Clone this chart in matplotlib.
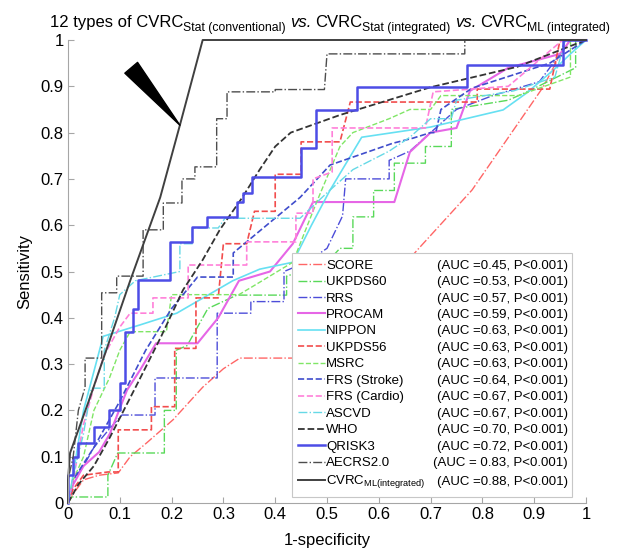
import matplotlib
matplotlib.use("Agg")
import matplotlib.pyplot as plt

plt.rcParams['font.family'] = ['Liberation Sans', 'DejaVu Sans']
plt.rcParams['mathtext.fontset'] = 'custom'
plt.rcParams['mathtext.rm'] = 'Liberation Sans'
plt.rcParams['mathtext.it'] = 'Liberation Sans:italic'

# ROC curves (fpr = 1-specificity, tpr = sensitivity)
score_fpr = [0, 0.01, 0.03, 0.06, 0.097, 0.12, 0.152, 0.203, 0.26, 0.30, 0.332, 0.45, 0.55, 0.63, 0.674, 0.78, 0.917, 0.955, 0.97, 1]
score_tpr = [0, 0.02, 0.05, 0.06, 0.065, 0.10, 0.13, 0.18, 0.25, 0.29, 0.313, 0.313, 0.40, 0.49, 0.546, 0.676, 0.898, 0.978, 1, 1]

ukpds60_fpr = [0, 0.007, 0.077, 0.077, 0.096, 0.186, 0.186, 0.209, 0.209, 0.23, 0.25, 0.27, 0.326, 0.422, 0.422, 0.45, 0.50, 0.525, 0.55, 0.55, 0.59, 0.59, 0.63, 0.63, 0.69, 0.69, 0.74, 0.74, 0.85, 0.89, 0.98, 0.98, 1]
ukpds60_tpr = [0, 0.013, 0.013, 0.06, 0.108, 0.108, 0.20, 0.20, 0.33, 0.34, 0.38, 0.42, 0.449, 0.449, 0.49, 0.50, 0.52, 0.55, 0.55, 0.618, 0.618, 0.675, 0.675, 0.734, 0.734, 0.77, 0.77, 0.85, 0.87, 0.89, 0.94, 1, 1]

rrs_fpr = [0, 0.01, 0.03, 0.05, 0.08, 0.104, 0.168, 0.168, 0.288, 0.288, 0.353, 0.353, 0.417, 0.417, 0.46, 0.50, 0.53, 0.536, 0.62, 0.62, 0.66, 0.70, 0.72, 0.75, 0.82, 0.91, 0.95, 0.96, 1]
rrs_tpr = [0, 0.05, 0.08, 0.12, 0.16, 0.19, 0.19, 0.27, 0.27, 0.41, 0.41, 0.435, 0.435, 0.50, 0.52, 0.55, 0.62, 0.70, 0.70, 0.74, 0.76, 0.80, 0.82, 0.85, 0.88, 0.91, 0.97, 1, 1]

procam_fpr = [0, 0.01, 0.03, 0.06, 0.081, 0.114, 0.139, 0.17, 0.25, 0.29, 0.33, 0.39, 0.434, 0.473, 0.63, 0.66, 0.70, 0.75, 0.776, 0.85, 0.95, 0.97, 1]
procam_tpr = [0, 0.04, 0.08, 0.11, 0.15, 0.244, 0.287, 0.345, 0.345, 0.40, 0.48, 0.50, 0.56, 0.65, 0.65, 0.758, 0.80, 0.81, 0.89, 0.94, 0.97, 1, 1]

nippon_fpr = [0, 0.004, 0.03, 0.068, 0.14, 0.21, 0.318, 0.37, 0.434, 0.47, 0.506, 0.567, 0.70, 0.84, 0.886, 0.944, 0.97, 1]
nippon_tpr = [0, 0.02, 0.20, 0.36, 0.385, 0.41, 0.48, 0.505, 0.52, 0.60, 0.676, 0.79, 0.812, 0.849, 0.886, 0.942, 0.97, 1]

ukpds56_fpr = [0, 0.01, 0.03, 0.077, 0.097, 0.097, 0.161, 0.161, 0.206, 0.206, 0.247, 0.247, 0.29, 0.30, 0.345, 0.36, 0.40, 0.40, 0.45, 0.45, 0.525, 0.545, 0.79, 0.79, 0.93, 0.95, 1]
ukpds56_tpr = [0, 0.03, 0.06, 0.067, 0.067, 0.158, 0.158, 0.208, 0.208, 0.334, 0.334, 0.443, 0.443, 0.56, 0.56, 0.63, 0.63, 0.71, 0.71, 0.78, 0.78, 0.866, 0.866, 0.894, 0.894, 1, 1]

msrc_fpr = [0, 0.01, 0.03, 0.05, 0.08, 0.10, 0.12, 0.19, 0.20, 0.33, 0.36, 0.434, 0.48, 0.525, 0.55, 0.62, 0.66, 0.70, 0.72, 0.87, 0.97, 0.97, 1]
msrc_tpr = [0, 0.05, 0.10, 0.20, 0.27, 0.33, 0.37, 0.37, 0.45, 0.45, 0.47, 0.52, 0.65, 0.77, 0.80, 0.83, 0.85, 0.85, 0.88, 0.88, 0.92, 1, 1]

frs_stroke_fpr = [0, 0.01, 0.05, 0.10, 0.15, 0.20, 0.25, 0.319, 0.319, 0.448, 0.506, 0.627, 0.666, 0.70, 0.71, 0.72, 0.78, 0.93, 1]
frs_stroke_tpr = [0, 0.05, 0.12, 0.22, 0.33, 0.42, 0.488, 0.488, 0.54, 0.66, 0.73, 0.777, 0.788, 0.80, 0.80, 0.85, 0.896, 0.95, 1]

frs_cardio_fpr = [0, 0.01, 0.03, 0.05, 0.07, 0.10, 0.12, 0.164, 0.164, 0.232, 0.232, 0.345, 0.345, 0.44, 0.44, 0.473, 0.473, 0.51, 0.51, 0.69, 0.705, 0.85, 0.955, 1]
frs_cardio_tpr = [0, 0.05, 0.17, 0.25, 0.32, 0.38, 0.41, 0.41, 0.443, 0.443, 0.514, 0.514, 0.564, 0.564, 0.626, 0.626, 0.70, 0.715, 0.81, 0.81, 0.888, 0.90, 1, 1]

ascvd_fpr = [0, 0.01, 0.03, 0.045, 0.07, 0.07, 0.09, 0.10, 0.13, 0.216, 0.216, 0.24, 0.24, 0.29, 0.303, 0.448, 0.50, 0.55, 0.62, 0.66, 0.70, 0.74, 0.75, 0.86, 0.94, 0.96, 1]
ascvd_tpr = [0, 0.06, 0.15, 0.248, 0.248, 0.33, 0.40, 0.45, 0.48, 0.50, 0.56, 0.56, 0.594, 0.594, 0.615, 0.615, 0.67, 0.72, 0.76, 0.79, 0.83, 0.83, 0.87, 0.89, 0.92, 1, 1]

who_fpr = [0, 0.02, 0.05, 0.081, 0.135, 0.18, 0.222, 0.26, 0.293, 0.336, 0.37, 0.40, 0.43, 0.525, 0.70, 0.867, 1]
who_tpr = [0, 0.04, 0.08, 0.142, 0.26, 0.36, 0.46, 0.525, 0.59, 0.659, 0.72, 0.77, 0.80, 0.838, 0.898, 0.942, 1]

qrisk3_fpr = [0, 0, 0.01, 0.01, 0.02, 0.02, 0.05, 0.05, 0.08, 0.08, 0.10, 0.10, 0.11, 0.11, 0.125, 0.125, 0.135, 0.135, 0.197, 0.197, 0.239, 0.239, 0.268, 0.268, 0.326, 0.326, 0.338, 0.338, 0.355, 0.355, 0.45, 0.45, 0.479, 0.479, 0.558, 0.558, 0.77, 0.77, 0.955, 0.955, 1]
qrisk3_tpr = [0, 0.06, 0.06, 0.10, 0.10, 0.13, 0.13, 0.165, 0.165, 0.20, 0.20, 0.26, 0.26, 0.37, 0.37, 0.42, 0.42, 0.482, 0.482, 0.564, 0.564, 0.596, 0.596, 0.618, 0.618, 0.65, 0.65, 0.67, 0.67, 0.704, 0.704, 0.767, 0.767, 0.849, 0.849, 0.898, 0.898, 0.946, 0.946, 1, 1]

aecrs_fpr = [0, 0, 0.01, 0.02, 0.033, 0.033, 0.065, 0.065, 0.094, 0.094, 0.145, 0.145, 0.184, 0.184, 0.22, 0.22, 0.245, 0.245, 0.287, 0.287, 0.307, 0.307, 0.40, 0.40, 0.495, 0.50, 0.766, 0.766, 1]
aecrs_tpr = [0, 0.05, 0.10, 0.20, 0.25, 0.313, 0.313, 0.454, 0.454, 0.49, 0.49, 0.59, 0.59, 0.648, 0.648, 0.70, 0.70, 0.726, 0.726, 0.83, 0.83, 0.888, 0.888, 0.893, 0.893, 0.97, 0.97, 1.0, 1]

cvrc_fpr = [0, 0, 0.004, 0.04, 0.08, 0.12, 0.178, 0.216, 0.26, 1]
cvrc_tpr = [0, 0.05, 0.108, 0.22, 0.35, 0.48, 0.66, 0.816, 1.0, 1]

names = ['SCORE', 'UKPDS60', 'RRS', 'PROCAM', 'NIPPON', 'UKPDS56', 'MSRC',
         'FRS (Stroke)', 'FRS (Cardio)', 'ASCVD', 'WHO', 'QRISK3', 'AECRS2.0',
         r'CVRC$_{\mathrm{ML(integrated)}}$']
auc_text = ['(AUC =0.45, P<0.001)', '(AUC =0.53, P<0.001)', '(AUC =0.57, P<0.001)',
            '(AUC =0.59, P<0.001)', '(AUC =0.63, P<0.001)', '(AUC =0.63, P<0.001)',
            '(AUC =0.63, P<0.001)', '(AUC =0.64, P<0.001)', '(AUC =0.67, P<0.001)',
            '(AUC =0.67, P<0.001)', '(AUC =0.70, P<0.001)', '(AUC =0.72, P<0.001)',
            '(AUC = 0.83, P<0.001)', '(AUC =0.88, P<0.001)']

title_parts = ['12 types of CVRC', 'Stat (conventional)', 'vs.', 'CVRC',
               'Stat (integrated)', 'vs.', 'CVRC', 'ML (integrated)']
title_kinds = ['main', 'sub', 'it', 'main', 'sub', 'it', 'main', 'sub']

curves = [(score_fpr, score_tpr), (ukpds60_fpr, ukpds60_tpr), (rrs_fpr, rrs_tpr),
          (procam_fpr, procam_tpr), (nippon_fpr, nippon_tpr), (ukpds56_fpr, ukpds56_tpr),
          (msrc_fpr, msrc_tpr), (frs_stroke_fpr, frs_stroke_tpr), (frs_cardio_fpr, frs_cardio_tpr),
          (ascvd_fpr, ascvd_tpr), (who_fpr, who_tpr), (qrisk3_fpr, qrisk3_tpr),
          (aecrs_fpr, aecrs_tpr), (cvrc_fpr, cvrc_tpr)]

styles = [
    dict(color=(1.0, 0.4, 0.4), ls='-.', lw=1.0),
    dict(color=(0.35, 0.85, 0.35), ls='-.', lw=1.0),
    dict(color=(0.3, 0.3, 0.85), ls='-.', lw=1.0),
    dict(color=(0.9, 0.4, 0.9), ls='-', lw=1.5),
    dict(color=(0.4, 0.88, 0.95), ls='-', lw=1.2),
    dict(color=(0.95, 0.3, 0.3), ls='--', lw=1.2),
    dict(color=(0.5, 0.9, 0.4), ls='--', lw=1.0),
    dict(color=(0.25, 0.3, 0.8), ls='--', lw=1.2),
    dict(color=(1.0, 0.5, 0.85), ls='--', lw=1.2),
    dict(color=(0.4, 0.85, 0.9), ls='-.', lw=1.0),
    dict(color=(0.2, 0.2, 0.2), ls='--', lw=1.3),
    dict(color=(0.3, 0.3, 0.9), ls='-', lw=1.8),
    dict(color=(0.3, 0.3, 0.3), ls='-.', lw=1.0),
    dict(color=(0.25, 0.25, 0.25), ls='-', lw=1.4),
]

W, H = 617, 548
fig = plt.figure(figsize=(W / 100, H / 100), dpi=100)
ax = fig.add_axes([68 / W, 1 - 503 / H, 518 / W, 463 / H])

handles = []
for (x, y), st in zip(curves, styles):
    h, = ax.plot(x, y, clip_on=False, **st)
    handles.append(h)

ax.set_xlim(0, 1)
ax.set_ylim(0, 1)
ticks = [0, 0.1, 0.2, 0.3, 0.4, 0.5, 0.6, 0.7, 0.8, 0.9, 1]
ticklabels = ['0', '0.1', '0.2', '0.3', '0.4', '0.5', '0.6', '0.7', '0.8', '0.9', '1']
ax.set_xticks(ticks)
ax.set_xticklabels(ticklabels)
ax.set_yticks(ticks)
ax.set_yticklabels(ticklabels)
ax.tick_params(direction='in', length=4, color='0.65', labelsize=12, pad=3)
for s in ['top', 'right']:
    ax.spines[s].set_visible(False)
for s in ['left', 'bottom']:
    ax.spines[s].set_color('0.65')

ax.set_xlabel('1-specificity', fontsize=12, labelpad=8)
ax.set_ylabel('Sensitivity', fontsize=12, labelpad=6)

# pointer to the CVRC_ML curve
ax.annotate('', xy=(0.216, 0.816), xytext=(0.122, 0.94),
            arrowprops=dict(arrowstyle='wedge,tail_width=0.6,shrink_factor=0.5',
                            fc='k', ec='k', mutation_scale=20, shrinkA=0, shrinkB=0))

leg = ax.legend(handles, names, loc='lower left',
                bbox_to_anchor=(0.432, 0.013, 0.541, 0.538), mode='expand',
                fontsize=9.5, frameon=True, fancybox=False, framealpha=1,
                edgecolor='0.78', handlelength=2.0, handletextpad=0.1,
                labelspacing=0.32, borderaxespad=0, borderpad=0.5)
leg.get_frame().set_linewidth(0.8)

# title built from pieces so the subscripts can have their own size
title_texts = []
for s, k in zip(title_parts, title_kinds):
    t = fig.text(0, 0, s, fontsize=8.8 if k == 'sub' else 12,
                 style='italic' if k == 'it' else 'normal', va='baseline', ha='left')
    title_texts.append(t)

fig.canvas.draw()
r = fig.canvas.get_renderer()
gap = 4
widths = [t.get_window_extent(r).width for t in title_texts]
total = sum(widths) + gap * sum(1 for k in title_kinds if k != 'sub') - gap
x = 330 - total / 2
for i, (t, w, k) in enumerate(zip(title_texts, widths, title_kinds)):
    if i > 0 and k != 'sub':
        x += gap
    base = 31 if k == 'sub' else 27
    t.set_position((x / W, 1 - base / H))
    x += w

inv = fig.transFigure.inverted()
right_x = 568 / W
for t, s in zip(leg.get_texts(), auc_text):
    bb = t.get_window_extent(r)
    yc = inv.transform((0, (bb.y0 + bb.y1) / 2))[1]
    fig.text(right_x, yc, s, ha='right', va='center', fontsize=9.5)

fig.savefig('out.png', dpi=100)
